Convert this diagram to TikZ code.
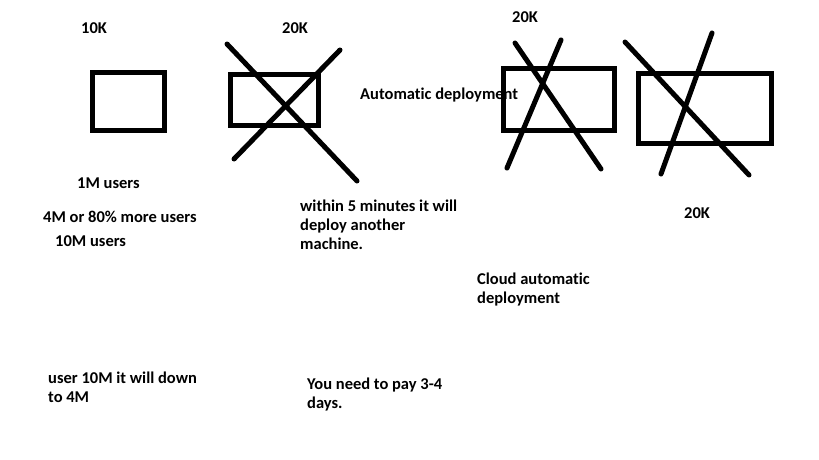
\documentclass[tikz,border=0pt]{standalone}
\usepackage{fontspec}
\setmainfont{Carlito}[Ligatures=NoCommon]
\begin{document}
\begin{tikzpicture}[x=1pt,y=-1pt,
    note/.style={font=\bfseries\fontsize{16.5}{19}\selectfont,inner sep=0pt,anchor=west},
    para/.style={note,anchor=north west,align=left},
    pen/.style={line width=5pt},
    strike/.style={line width=5pt,line cap=round}]
  \useasboundingbox (0,0) rectangle (819,460);
  \draw
    (81,28) node[note] (k10){10K}
    (282,28) node[note] (k20a){20K}
    (512,17) node[note] (k20b){20K}
    (684,213) node[note] (k20c){20K}
    (360,95) node[note] (auto){Automatic deployment}
    (77,183) node[note] (m1){1M users}
    (43,217) node[note] (m4){4M or 80\% more users}
    (55,241) node[note] (m10){10M users}
    (300,200) node[para] (five){within 5 minutes it will\\deploy another\\machine.}
    (477,273) node[para] (cloud){Cloud automatic\\deployment}
    (48,372) node[para] (down){user 10M it will down\\to 4M}
    (307,378) node[para] (pay){You need to pay 3-4\\days.};
  \begin{scope}[pen]
    \draw (92.5,72.5) rectangle (164.5,130.5);
    \draw (230.5,74.5) rectangle (318.5,125.5);
    \draw (503,69) rectangle (614,130);
    \draw (638.5,73.5) rectangle (771.5,143.5);
  \end{scope}
  \begin{scope}[strike]
    \draw (227,44) -- (357,181);
    \draw (340,50) -- (234,159);
    \draw (515,43) -- (601,169);
    \draw (561,40) -- (507,168);
    \draw (625,42) -- (749,175);
    \draw (712,33) -- (661,174);
  \end{scope}
\end{tikzpicture}
\end{document}
